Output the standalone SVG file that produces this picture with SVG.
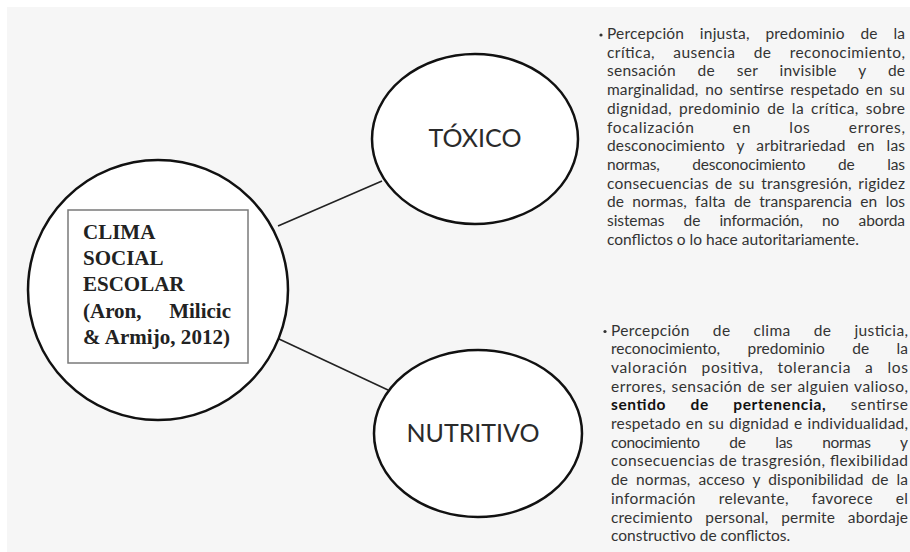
<svg xmlns="http://www.w3.org/2000/svg" width="910" height="552" viewBox="0 0 910 552">
<style>
.bg{fill:#f6f6f6}
.node{fill:#ffffff;stroke:#111111;stroke-width:2.5}
.conn{stroke:#222222;stroke-width:1.6;fill:none}
.box{fill:#ffffff;stroke:#7a7a7a;stroke-width:1.5}
.title{font-family:"Liberation Serif","Times New Roman",serif;font-weight:bold;font-size:21px;fill:#222222}
.label{font-family:Lato,"Open Sans",sans-serif;font-size:25px;fill:#2a2a2a;text-anchor:middle}
.desc{font-family:Lato,"Open Sans",sans-serif;font-size:15.5px;fill:#333333}
.b{font-weight:bold;fill:#111111}
</style>
<rect x="0" y="0" width="910" height="552" fill="#ffffff"/>
<rect class="bg" x="7" y="7" width="903" height="545"/>
<g id="connectors">
<line class="conn" x1="278" y1="226" x2="382" y2="181"/>
<line class="conn" x1="279" y1="339" x2="388" y2="390"/>
</g>
<g id="node-clima">
<circle class="node" cx="158" cy="290" r="130"/>
<rect class="box" x="68" y="210" width="180" height="153"/>
<text class="title" x="83" y="239">CLIMA</text>
<text class="title" x="83" y="265">SOCIAL</text>
<text class="title" x="83" y="291">ESCOLAR</text>
<text class="title" x="83" y="318">(Aron,</text>
<text class="title" x="231" y="318" text-anchor="end">Milicic</text>
<text class="title" x="83" y="344" textLength="147" lengthAdjust="spacing">&amp; Armijo, 2012)</text>
</g>
<g id="node-toxico">
<ellipse class="node" cx="475" cy="139" rx="103" ry="85"/>
<text class="label" x="475" y="147">TÓXICO</text>
</g>
<g id="node-nutritivo">
<ellipse class="node" cx="478" cy="433.5" rx="104" ry="83.5"/>
<text class="label" x="473" y="442">NUTRITIVO</text>
</g>
<g id="desc-toxico" class="desc">
<circle cx="601" cy="35" r="1.6" fill="#333333"/>
<text x="607" y="39" word-spacing="11.5" textLength="298" lengthAdjust="spacing">Percepción injusta, predominio de la</text>
<text x="607" y="57.7" word-spacing="13.8" textLength="298" lengthAdjust="spacing">crítica, ausencia de reconocimiento,</text>
<text x="607" y="76.4" word-spacing="17.6" textLength="298" lengthAdjust="spacing">sensación de ser invisible y de</text>
<text x="607" y="95.1" word-spacing="2.6" textLength="298" lengthAdjust="spacing">marginalidad, no sentirse respetado en su</text>
<text x="607" y="113.8" word-spacing="2.6" textLength="298" lengthAdjust="spacing">dignidad, predominio de la crítica, sobre</text>
<text x="607" y="132.5" word-spacing="33.8" textLength="298" lengthAdjust="spacing">focalización en los errores,</text>
<text x="607" y="151.2" word-spacing="7.8" textLength="298" lengthAdjust="spacing">desconocimiento y arbitrariedad en las</text>
<text x="607" y="169.9" word-spacing="28.8" textLength="298" lengthAdjust="spacing">normas, desconocimiento de las</text>
<text x="607" y="188.6" word-spacing="2.1" textLength="298" lengthAdjust="spacing">consecuencias de su transgresión, rigidez</text>
<text x="607" y="207.3" word-spacing="4.2" textLength="298" lengthAdjust="spacing">de normas, falta de transparencia en los</text>
<text x="607" y="226" word-spacing="15.3" textLength="298" lengthAdjust="spacing">sistemas de información, no aborda</text>
<text x="607" y="244.7">conflictos o lo hace autoritariamente.</text>
</g>
<g id="desc-nutritivo" class="desc">
<circle cx="605" cy="331.5" r="1.6" fill="#333333"/>
<text x="611" y="335.5" word-spacing="18.8" textLength="297" lengthAdjust="spacing">Percepción de clima de justicia,</text>
<text x="611" y="354.2" word-spacing="23.5" textLength="297" lengthAdjust="spacing">reconocimiento, predominio de la</text>
<text x="611" y="372.9" word-spacing="9.4" textLength="297" lengthAdjust="spacing">valoración positiva, tolerancia a los</text>
<text x="611" y="391.6" word-spacing="0.9" textLength="297" lengthAdjust="spacing">errores, sensación de ser alguien valioso,</text>
<text x="611" y="410.3" word-spacing="20" textLength="297" lengthAdjust="spacing"><tspan class="b">sentido de pertenencia,</tspan> sentirse</text>
<text x="611" y="429" word-spacing="1" textLength="297" lengthAdjust="spacing">respetado en su dignidad e individualidad,</text>
<text x="611" y="447.7" word-spacing="26" textLength="297" lengthAdjust="spacing">conocimiento de las normas y</text>
<text x="611" y="466.4" word-spacing="0" textLength="297" lengthAdjust="spacing">consecuencias de trasgresión, flexibilidad</text>
<text x="611" y="485.1" word-spacing="4" textLength="297" lengthAdjust="spacing">de normas, acceso y disponibilidad de la</text>
<text x="611" y="503.8" word-spacing="18.5" textLength="297" lengthAdjust="spacing">información relevante, favorece el</text>
<text x="611" y="522.5" word-spacing="8.5" textLength="297" lengthAdjust="spacing">crecimiento personal, permite abordaje</text>
<text x="611" y="541.2">constructivo de conflictos.</text>
</g>
</svg>
